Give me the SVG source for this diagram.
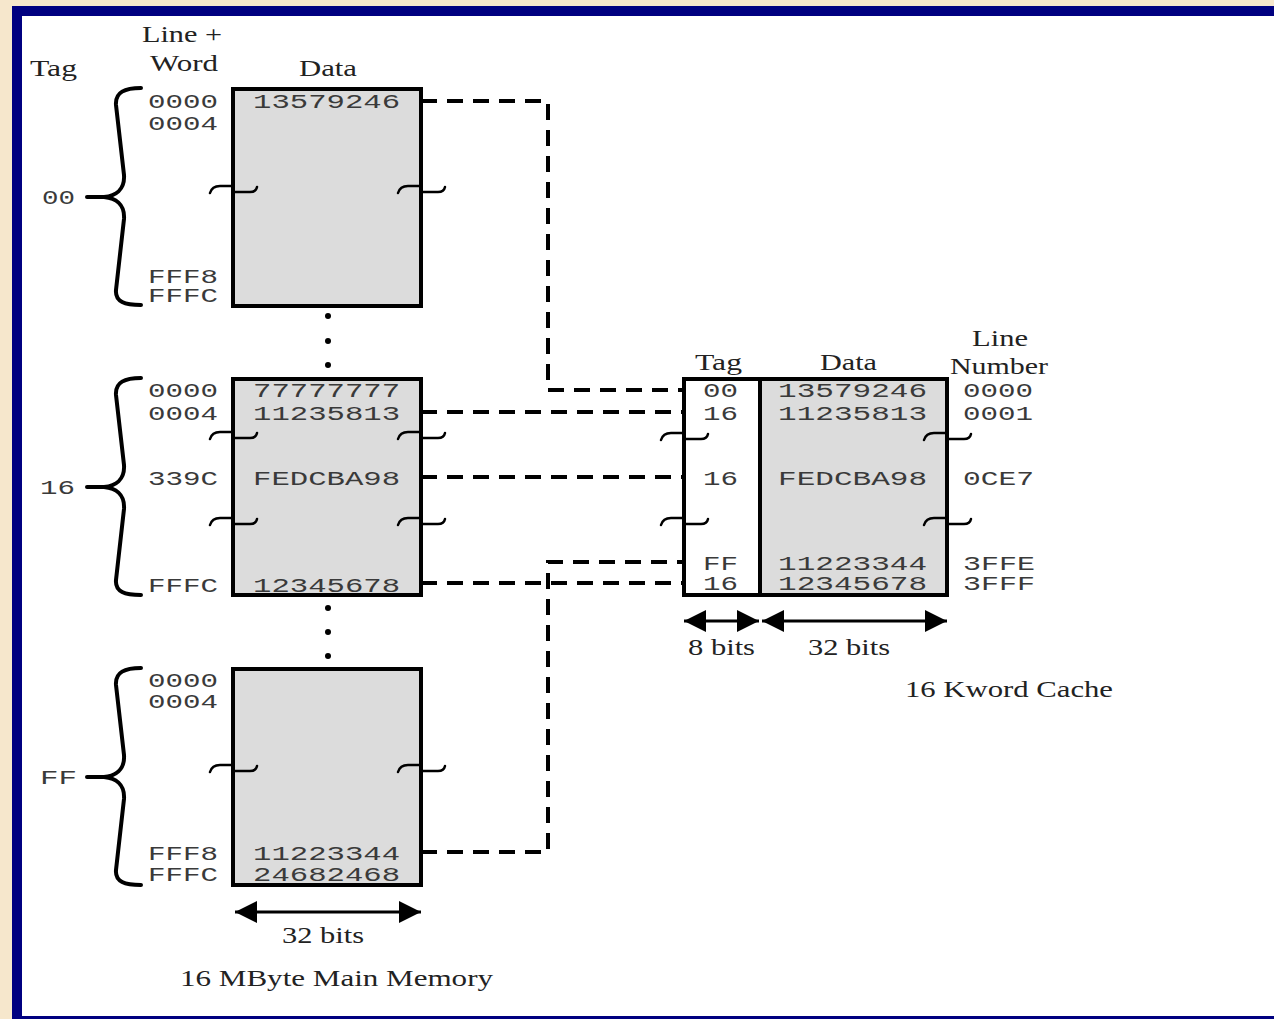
<svg xmlns="http://www.w3.org/2000/svg" width="1274" height="1019" viewBox="0 0 1274 1019">
<defs>
<style>
.mono{font-family:"Liberation Mono","DejaVu Sans Mono",monospace;font-size:20px;fill:#3a3a3a}
.serif{font-family:"Liberation Serif","DejaVu Serif",serif;font-size:24px;fill:#222}
.blk{fill:#dcdcdc;stroke:#000;stroke-width:4}
.wht{fill:#fff;stroke:#000;stroke-width:4}
.brace{fill:none;stroke:#000;stroke-width:4;stroke-linejoin:round;stroke-linecap:round}
.brk{fill:none;stroke:#000;stroke-width:2.5;stroke-linecap:round}
.dash{fill:none;stroke:#000;stroke-width:4;stroke-dasharray:16 10}
.arr{stroke:#000;stroke-width:3;marker-start:url(#ah);marker-end:url(#ah)}
</style>
<marker id="ah" viewBox="0 0 10 10" refX="10" refY="5" markerUnits="userSpaceOnUse" markerWidth="22" markerHeight="22" orient="auto-start-reverse">
<path d="M0,0 L10,5 L0,10 z" fill="#000"/>
</marker>
<path id="brk" class="brk" d="M -23 4 Q -21 -3 -13 -3 L 0 -3 L 0 3 L 17 3 Q 23 3 24 -2"/>
<path id="brace" class="brace" d="M 141 88 C 125 88 115 92 116 105 L 124 175 C 125 190 115 196 104 197 L 87 197 M 104 197 C 115 198 125 204 124 219 L 116 290 C 115 302 125 305 141 305"/>
</defs>
<rect x="0" y="0" width="1274" height="1019" fill="#f6e7cc"/>
<rect x="12" y="6" width="1262" height="1013" fill="#000080"/>
<rect x="22" y="16" width="1252" height="1000" fill="#fff"/>

<g id="headers">
<text class="serif" x="30" y="76" textLength="47" lengthAdjust="spacingAndGlyphs">Tag</text>
<text class="serif" x="142" y="42" textLength="80" lengthAdjust="spacingAndGlyphs">Line +</text>
<text class="serif" x="150" y="71" textLength="68" lengthAdjust="spacingAndGlyphs">Word</text>
<text class="serif" x="299" y="76" textLength="58" lengthAdjust="spacingAndGlyphs">Data</text>
</g>

<g id="mem-block-00">
<use href="#brace"/>
<text class="mono" x="42" y="204" textLength="33" lengthAdjust="spacingAndGlyphs">00</text>
<rect class="blk" x="233" y="89" width="188" height="217"/>
<text class="mono" x="148" y="108" textLength="70" lengthAdjust="spacingAndGlyphs">0000</text>
<text class="mono" x="148" y="130" textLength="70" lengthAdjust="spacingAndGlyphs">0004</text>
<text class="mono" x="148" y="283" textLength="70" lengthAdjust="spacingAndGlyphs">FFF8</text>
<text class="mono" x="148" y="302" textLength="70" lengthAdjust="spacingAndGlyphs">FFFC</text>
<text class="mono" x="253" y="108" textLength="147" lengthAdjust="spacingAndGlyphs">13579246</text>
<use href="#brk" x="233" y="189"/>
<use href="#brk" x="421" y="189"/>
</g>

<g id="dots">
<circle cx="328" cy="316" r="3"/><circle cx="328" cy="341" r="3"/><circle cx="328" cy="365" r="3"/>
<circle cx="328" cy="608" r="3"/><circle cx="328" cy="632" r="3"/><circle cx="328" cy="656" r="3"/>
</g>

<g id="mem-block-16">
<use href="#brace" y="290"/>
<text class="mono" x="40" y="494" textLength="35" lengthAdjust="spacingAndGlyphs">16</text>
<rect class="blk" x="233" y="379" width="188" height="216"/>
<text class="mono" x="148" y="397" textLength="70" lengthAdjust="spacingAndGlyphs">0000</text>
<text class="mono" x="148" y="420" textLength="70" lengthAdjust="spacingAndGlyphs">0004</text>
<text class="mono" x="148" y="485" textLength="70" lengthAdjust="spacingAndGlyphs">339C</text>
<text class="mono" x="148" y="592" textLength="70" lengthAdjust="spacingAndGlyphs">FFFC</text>
<text class="mono" x="253" y="397" textLength="147" lengthAdjust="spacingAndGlyphs">77777777</text>
<text class="mono" x="253" y="420" textLength="147" lengthAdjust="spacingAndGlyphs">11235813</text>
<text class="mono" x="253" y="485" textLength="147" lengthAdjust="spacingAndGlyphs">FEDCBA98</text>
<text class="mono" x="253" y="592" textLength="147" lengthAdjust="spacingAndGlyphs">12345678</text>
<use href="#brk" x="233" y="435"/>
<use href="#brk" x="421" y="435"/>
<use href="#brk" x="233" y="521"/>
<use href="#brk" x="421" y="521"/>
</g>

<g id="mem-block-FF">
<use href="#brace" y="580"/>
<text class="mono" x="40" y="784" textLength="37" lengthAdjust="spacingAndGlyphs">FF</text>
<rect class="blk" x="233" y="669" width="188" height="216"/>
<text class="mono" x="148" y="687" textLength="70" lengthAdjust="spacingAndGlyphs">0000</text>
<text class="mono" x="148" y="708" textLength="70" lengthAdjust="spacingAndGlyphs">0004</text>
<text class="mono" x="148" y="860" textLength="70" lengthAdjust="spacingAndGlyphs">FFF8</text>
<text class="mono" x="148" y="881" textLength="70" lengthAdjust="spacingAndGlyphs">FFFC</text>
<text class="mono" x="253" y="860" textLength="147" lengthAdjust="spacingAndGlyphs">11223344</text>
<text class="mono" x="253" y="881" textLength="147" lengthAdjust="spacingAndGlyphs">24682468</text>
<use href="#brk" x="233" y="768"/>
<use href="#brk" x="421" y="768"/>
</g>

<g id="mem-width">
<line class="arr" x1="235" y1="912" x2="421" y2="912"/>
<text class="serif" x="282" y="943" textLength="82" lengthAdjust="spacingAndGlyphs">32 bits</text>
<text class="serif" x="180" y="986" textLength="313" lengthAdjust="spacingAndGlyphs">16 MByte Main Memory</text>
</g>

<g id="connectors">
<path class="dash" d="M 421 101 H 548 V 390 H 684"/>
<path class="dash" d="M 421 412 H 684"/>
<path class="dash" d="M 421 477 H 684"/>
<path class="dash" d="M 421 583 H 684"/>
<path class="dash" d="M 421 852 H 548 V 562 H 684"/>
</g>

<g id="cache">
<text class="serif" x="695" y="370" textLength="47" lengthAdjust="spacingAndGlyphs">Tag</text>
<text class="serif" x="820" y="370" textLength="57" lengthAdjust="spacingAndGlyphs">Data</text>
<text class="serif" x="972" y="346" textLength="56" lengthAdjust="spacingAndGlyphs">Line</text>
<text class="serif" x="950" y="374" textLength="98" lengthAdjust="spacingAndGlyphs">Number</text>
<rect class="wht" x="684" y="379" width="76" height="216"/>
<rect class="blk" x="760" y="379" width="187" height="216"/>
<text class="mono" x="703" y="397" textLength="35" lengthAdjust="spacingAndGlyphs">00</text>
<text class="mono" x="703" y="420" textLength="35" lengthAdjust="spacingAndGlyphs">16</text>
<text class="mono" x="703" y="485" textLength="35" lengthAdjust="spacingAndGlyphs">16</text>
<text class="mono" x="703" y="570" textLength="35" lengthAdjust="spacingAndGlyphs">FF</text>
<text class="mono" x="703" y="590" textLength="35" lengthAdjust="spacingAndGlyphs">16</text>
<text class="mono" x="778" y="397" textLength="149" lengthAdjust="spacingAndGlyphs">13579246</text>
<text class="mono" x="778" y="420" textLength="149" lengthAdjust="spacingAndGlyphs">11235813</text>
<text class="mono" x="778" y="485" textLength="149" lengthAdjust="spacingAndGlyphs">FEDCBA98</text>
<text class="mono" x="778" y="570" textLength="149" lengthAdjust="spacingAndGlyphs">11223344</text>
<text class="mono" x="778" y="590" textLength="149" lengthAdjust="spacingAndGlyphs">12345678</text>
<text class="mono" x="963" y="397" textLength="70" lengthAdjust="spacingAndGlyphs">0000</text>
<text class="mono" x="963" y="420" textLength="70" lengthAdjust="spacingAndGlyphs">0001</text>
<text class="mono" x="963" y="485" textLength="71" lengthAdjust="spacingAndGlyphs">0CE7</text>
<text class="mono" x="963" y="570" textLength="72" lengthAdjust="spacingAndGlyphs">3FFE</text>
<text class="mono" x="963" y="590" textLength="72" lengthAdjust="spacingAndGlyphs">3FFF</text>
<use href="#brk" x="684" y="436"/>
<use href="#brk" x="947" y="436"/>
<use href="#brk" x="684" y="521"/>
<use href="#brk" x="947" y="521"/>
<line class="arr" x1="684" y1="621" x2="759" y2="621"/>
<line class="arr" x1="762" y1="621" x2="947" y2="621"/>
<text class="serif" x="688" y="655" textLength="67" lengthAdjust="spacingAndGlyphs">8 bits</text>
<text class="serif" x="808" y="655" textLength="82" lengthAdjust="spacingAndGlyphs">32 bits</text>
<text class="serif" x="905" y="697" textLength="208" lengthAdjust="spacingAndGlyphs">16 Kword Cache</text>
</g>
</svg>
